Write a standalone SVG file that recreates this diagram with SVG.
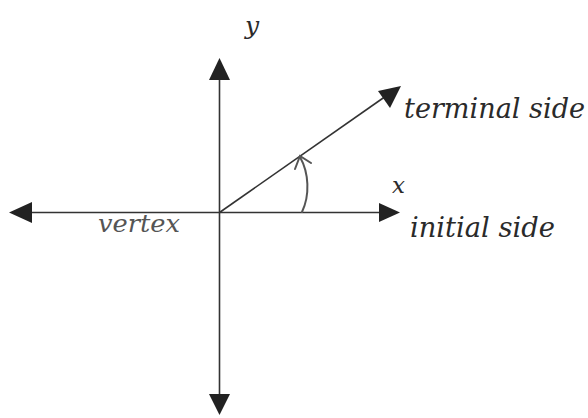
<svg xmlns="http://www.w3.org/2000/svg" width="588" height="418" viewBox="0 0 588 418">
  <style>
    .axis { stroke: #333; stroke-width: 1.6; fill: none; }
    .head { fill: #222; stroke: none; }
    .lbl { font-family: "DejaVu Serif", "Liberation Serif", serif; font-style: italic; fill: #2a2a2a; }
    .arc { stroke: #555; stroke-width: 2; fill: none; stroke-linecap: round; }
  </style>
  <rect width="588" height="418" fill="#ffffff"/>
  <g id="connectors">
    <line class="axis" x1="219.5" y1="78" x2="219.5" y2="396"/>
    <line class="axis" x1="30" y1="212.5" x2="382" y2="212.5"/>
    <line class="axis" x1="219.5" y1="212.5" x2="386" y2="96"/>
    <polygon class="head" points="219.5,58 209,80 230,80"/>
    <polygon class="head" points="219.5,415 209,394 230,394"/>
    <polygon class="head" points="9,212.5 32,202 32,223"/>
    <polygon class="head" points="400,212.5 379,203 379,222"/>
    <polygon class="head" points="401,86 378,91 390,108"/>
    <path class="arc" d="M 302 212 C 310 195, 309 173, 300 157"/>
    <path class="arc" d="M 295 169 L 300 156 L 311 163"/>
  </g>
  <g id="label-y"><text class="lbl" x="245" y="34" font-size="25">y</text></g>
  <g id="label-x"><text class="lbl" x="392" y="193" font-size="23">x</text></g>
  <g id="label-terminal"><text class="lbl" x="404" y="118" font-size="27" textLength="181" lengthAdjust="spacingAndGlyphs">terminal side</text></g>
  <g id="label-initial"><text class="lbl" x="410" y="237" font-size="27" textLength="145" lengthAdjust="spacingAndGlyphs">initial side</text></g>
  <g id="label-vertex"><text class="lbl" x="98" y="232" font-size="25" style="fill:#555" textLength="82" lengthAdjust="spacingAndGlyphs">vertex</text></g>
</svg>
